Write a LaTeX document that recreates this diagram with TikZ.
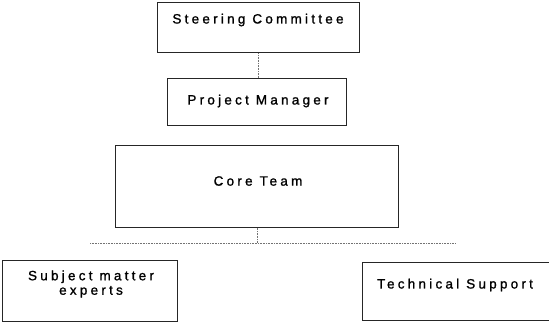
\documentclass[tikz,border=0pt]{standalone}
\usepackage{fontspec}
\setmainfont{Liberation Sans}[LetterSpace=24, FakeBold=1.2]
\begin{document}
\begin{tikzpicture}[x=1pt,y=-1pt,
  box/.style={draw=black!85, line width=0.7pt, rectangle, inner sep=0pt, anchor=north west},
  lbl/.style={font=\fontsize{13.5}{14.5}\selectfont, inner sep=0pt, align=center, text=black},
  conn/.style={draw=black!55, line width=0.6pt, densely dotted}]
\useasboundingbox (0,0) rectangle (549,322);
% boxes
\node[box, line width=1.3pt, minimum width=202pt, minimum height=50pt] (steer) at (157,2) {};
\node[box, minimum width=179pt, minimum height=47pt] (pm) at (167,78) {};
\node[box, minimum width=283pt, minimum height=82pt] (core) at (115,145) {};
\node[box, minimum width=175pt, minimum height=61pt] (sme) at (2,260) {};
\node[box, minimum width=193pt, minimum height=58pt] (tech) at (362,262) {};
% labels
\node[lbl] (steertxt) at (258,20) {Steering Committee};
\node[lbl] (pmtxt) at (258,101) {Project Manager};
\node[lbl] (coretxt) at (258,181) {Core Team};
\node[lbl] (smetxt) at (91,284) {Subject matter\\experts};
\node[lbl] (techtxt) at (455,285) {Technical Support};
% connectors
\coordinate (hl) at (90,243);
\coordinate (hr) at (455,243);
\draw[conn] (steer.south) -- (steer.south |- pm.north);
\draw[conn] (core.south) -- (core.south |- hl);
\draw[conn] (hl) -- (hr);
\end{tikzpicture}
\end{document}
